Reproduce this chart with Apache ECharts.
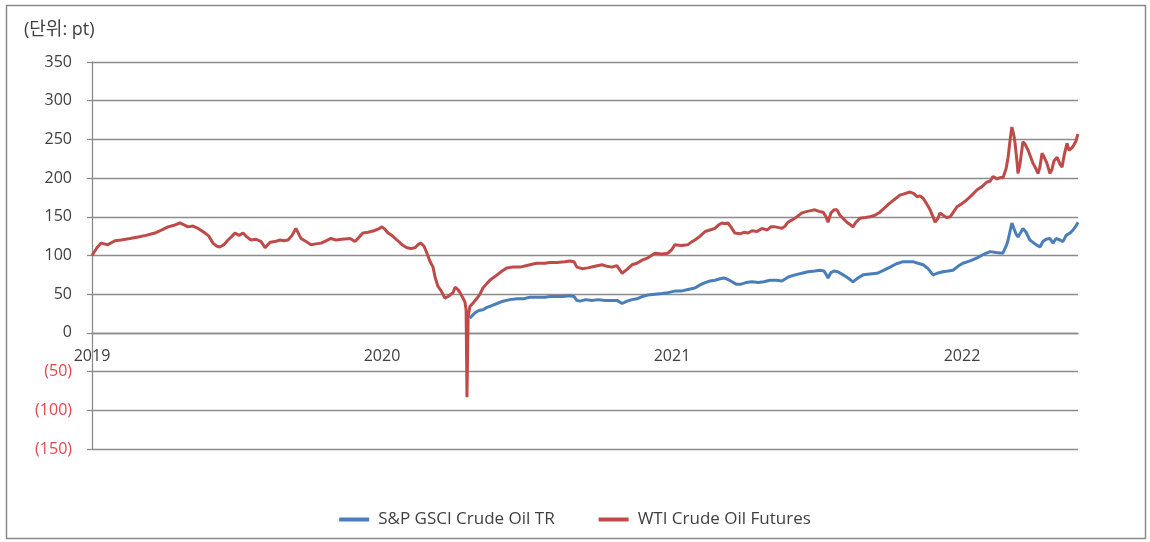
<!DOCTYPE html>
<html>
<head>
<meta charset="utf-8">
<script src="https://cdn.jsdelivr.net/npm/echarts@6/dist/echarts.min.js"></script>
<style>
html,body{margin:0;padding:0;background:#fff;}
#c{width:1150px;height:542px;}
</style>
</head>
<body>
<div id="c"></div>
<script>
// time expressed as decimal year
const wtiTime = [
2019.000,2019.017,2019.031,2019.055,2019.079,2019.100,2019.131,2019.159,2019.186,2019.217,
2019.241,2019.262,2019.283,2019.303,2019.321,2019.331,2019.348,2019.366,2019.390,2019.403,
2019.417,2019.431,2019.441,2019.455,2019.469,2019.483,2019.493,2019.507,2019.521,2019.534,
2019.548,2019.566,2019.583,2019.597,2019.614,2019.631,2019.648,2019.662,2019.676,2019.690,
2019.703,2019.714,2019.721,2019.738,2019.755,2019.772,2019.790,2019.807,2019.824,2019.841,
2019.862,2019.890,2019.907,2019.924,2019.934,2019.952,2019.972,2019.986,2020.000,2020.010,
2020.021,2020.034,2020.052,2020.069,2020.086,2020.100,2020.114,2020.124,2020.134,2020.145,
2020.155,2020.166,2020.176,2020.183,2020.193,2020.203,2020.217,2020.228,2020.234,2020.245,
2020.252,2020.262,2020.269,2020.279,2020.286,2020.290,2020.293,2020.297,2020.303,2020.317,
2020.328,2020.338,2020.348,2020.362,2020.372,2020.386,2020.397,2020.414,2020.431,2020.452,
2020.476,2020.500,2020.521,2020.534,2020.562,2020.579,2020.603,2020.631,2020.648,2020.662,
2020.672,2020.690,2020.710,2020.734,2020.759,2020.776,2020.793,2020.810,2020.828,2020.845,
2020.862,2020.879,2020.897,2020.917,2020.941,2020.966,2020.986,2021.000,2021.010,2021.031,
2021.055,2021.069,2021.079,2021.097,2021.114,2021.131,2021.148,2021.159,2021.172,2021.183,
2021.193,2021.203,2021.217,2021.234,2021.248,2021.262,2021.276,2021.293,2021.310,2021.328,
2021.341,2021.355,2021.369,2021.379,2021.390,2021.400,2021.414,2021.431,2021.448,2021.466,
2021.479,2021.493,2021.507,2021.521,2021.531,2021.538,2021.548,2021.559,2021.569,2021.579,
2021.590,2021.603,2021.614,2021.624,2021.634,2021.648,2021.666,2021.683,2021.700,2021.717,
2021.734,2021.752,2021.769,2021.786,2021.803,2021.821,2021.834,2021.845,2021.855,2021.866,
2021.876,2021.890,2021.900,2021.907,2021.917,2021.924,2021.938,2021.948,2021.959,2021.972,
2021.983,2022.000,2022.017,2022.034,2022.052,2022.069,2022.086,2022.097,2022.107,2022.121,
2022.134,2022.141,2022.152,2022.159,2022.166,2022.172,2022.179,2022.183,2022.190,2022.193,
2022.200,2022.210,2022.217,2022.228,2022.238,2022.245,2022.255,2022.262,2022.269,2022.276,
2022.286,2022.293,2022.303,2022.310,2022.317,2022.328,2022.338,2022.345,2022.352,2022.362,
2022.369,2022.379,2022.386,2022.393,2022.400
];
const wtiValues = [
100,110,116,114,119,120,122,124,126,129,
133,137,139,142,139,137,138,135,129,125,
116,112,111,114,120,125,129,126,129,124,
120,121,118,110,117,118,120,119,120,126,
135,127,122,118,114,115,116,119,122,120,
121,122,118,125,129,130,132,134,137,134,
129,126,120,114,110,109,110,114,116,112,
103,92,85,72,60,55,45,47,47,52,
59,56,52,45,40,30,-83,20,34,40,
45,50,58,64,68,72,75,80,84,85,
85,87,89,90,90,91,91,92,93,92,
85,83,84,86,88,86,85,87,77,82,
88,90,94,97,103,102,103,108,114,113,
114,118,120,125,131,133,135,139,142,141,
142,137,129,128,130,129,132,131,135,133,
137,137,136,135,138,143,146,150,155,157,
158,159,157,156,150,143,155,159,159,152,
148,143,140,137,143,148,149,150,152,156,
162,168,173,178,180,182,180,176,177,174,
168,159,150,143,148,155,151,149,150,157,
163,167,172,178,185,189,195,196,202,199,
201,200,212,227,250,266,255,245,220,206,
218,247,244,236,226,219,212,206,215,232,
225,219,206,211,222,227,218,214,229,245,
236,239,243,248,257
];
const gsciTime = [
2020.303,2020.310,2020.321,2020.334,2020.348,2020.362,2020.376,2020.397,2020.417,2020.441,
2020.466,2020.486,2020.510,2020.534,2020.562,2020.579,2020.603,2020.624,2020.648,2020.662,
2020.672,2020.683,2020.703,2020.724,2020.745,2020.769,2020.793,2020.810,2020.828,2020.845,
2020.862,2020.879,2020.897,2020.917,2020.941,2020.966,2020.986,2021.010,2021.031,2021.055,
2021.079,2021.097,2021.114,2021.131,2021.148,2021.166,2021.179,2021.193,2021.207,2021.221,
2021.238,2021.255,2021.276,2021.297,2021.317,2021.338,2021.359,2021.379,2021.400,2021.424,
2021.448,2021.469,2021.493,2021.510,2021.524,2021.531,2021.538,2021.548,2021.559,2021.572,
2021.590,2021.607,2021.624,2021.641,2021.659,2021.683,2021.707,2021.731,2021.752,2021.772,
2021.797,2021.814,2021.831,2021.848,2021.866,2021.883,2021.900,2021.914,2021.934,2021.952,
2021.969,2021.986,2022.003,2022.028,2022.052,2022.072,2022.097,2022.117,2022.141,2022.152,
2022.159,2022.166,2022.172,2022.179,2022.186,2022.193,2022.203,2022.210,2022.221,2022.234,
2022.245,2022.255,2022.269,2022.279,2022.290,2022.303,2022.314,2022.324,2022.338,2022.348,
2022.359,2022.372,2022.383,2022.393,2022.400
];
const gsciValues = [
19,22,26,29,30,33,35,38,41,43,
44,44,46,46,46,47,47,47,48,47,
42,41,43,42,43,42,42,42,38,41,
43,44,47,49,50,51,52,54,54,56,
58,62,65,67,68,70,71,69,66,63,
63,65,66,65,66,68,68,67,72,75,
77,79,80,81,80,76,71,78,80,79,
75,71,66,71,75,76,77,81,85,89,
92,92,92,90,88,83,75,77,79,80,
81,86,90,93,97,101,105,104,103,112,
120,132,142,135,128,124,130,135,130,120,
117,114,111,118,121,122,116,122,120,118,
126,129,133,138,143
];
const seriesNames = ['S&P GSCI Crude Oil TR', 'WTI Crude Oil Futures'];
const yTicks = { min: -150, max: 350, interval: 50 };
const xYears = { min: 2019, max: 2022.4, interval: 1 };
const unitLabel = '(단위: pt)';

const zip = (t, v) => t.map((x, i) => [x, v[i]]);
const FONT = '"Open Sans", "Noto Sans CJK KR", sans-serif';
const GRID = { left: 92, right: 72, top: 62, bottom: 93 };
const chartH = 542;
// pixel offset that moves the x axis from the grid bottom up to the value 0
const gridH = chartH - GRID.top - GRID.bottom;
const zeroOffset = -gridH * (0 - yTicks.min) / (yTicks.max - yTicks.min);

const chart = echarts.init(document.getElementById('c'), null, { renderer: 'canvas' });
chart.setOption({
  animation: false,
  backgroundColor: '#ffffff',
  textStyle: { fontFamily: FONT },
  graphic: [
    { type: 'rect', shape: { x: 6.5, y: 5.5, width: 1139, height: 533 },
      style: { fill: 'none', stroke: '#8a8a8a', lineWidth: 1.5 }, silent: true, z: -1 },
    { type: 'text', left: 24, top: 21,
      style: { text: unitLabel, fontSize: 18, fill: '#404040', fontFamily: FONT } }
  ],
  grid: Object.assign({ containLabel: false }, GRID),
  legend: {
    top: 506, left: 'center',
    itemWidth: 30, itemHeight: 4, itemGap: 44,
    icon: 'rect',
    textStyle: { fontSize: 17, color: '#404040', fontFamily: FONT, padding: [0, 0, 0, 4] },
    data: seriesNames
  },
  xAxis: {
    type: 'value', min: xYears.min, max: xYears.max, interval: xYears.interval,
    position: 'bottom', offset: zeroOffset,
    axisLine: { onZero: false, lineStyle: { color: '#8c8c8c', width: 1.3 } },
    axisTick: { show: false },
    splitLine: { show: false },
    axisLabel: {
      margin: 16, fontSize: 16, color: '#404040', fontFamily: FONT,
      showMaxLabel: false,
      formatter: v => (Math.abs(v - Math.round(v)) < 1e-6 ? String(Math.round(v)) : '')
    }
  },
  yAxis: {
    type: 'value', min: yTicks.min, max: yTicks.max, interval: yTicks.interval,
    axisLine: { show: true, onZero: false, lineStyle: { color: '#8c8c8c', width: 1.3 } },
    axisTick: { show: true, length: 5, lineStyle: { color: '#8c8c8c', width: 1.3 } },
    splitLine: { show: true, lineStyle: { color: '#8c8c8c', width: 1.3 } },
    axisLabel: {
      margin: 20, fontSize: 16, fontFamily: FONT,
      formatter: v => (v < 0 ? '{n|(' + (-v) + ')}' : '{p|' + v + '}'),
      rich: {
        p: { color: '#404040', fontSize: 16, fontFamily: FONT },
        n: { color: '#e0474c', fontSize: 16, fontFamily: FONT }
      }
    }
  },
  series: [
    { name: seriesNames[0], type: 'line', data: zip(gsciTime, gsciValues),
      showSymbol: false, symbol: 'none', color: '#4a7ebb',
      lineStyle: { width: 3, color: '#4a7ebb' }, z: 2 },
    { name: seriesNames[1], type: 'line', data: zip(wtiTime, wtiValues),
      showSymbol: false, symbol: 'none', color: '#be4b48',
      lineStyle: { width: 3, color: '#be4b48' }, z: 3 }
  ]
});
</script>
</body>
</html>
